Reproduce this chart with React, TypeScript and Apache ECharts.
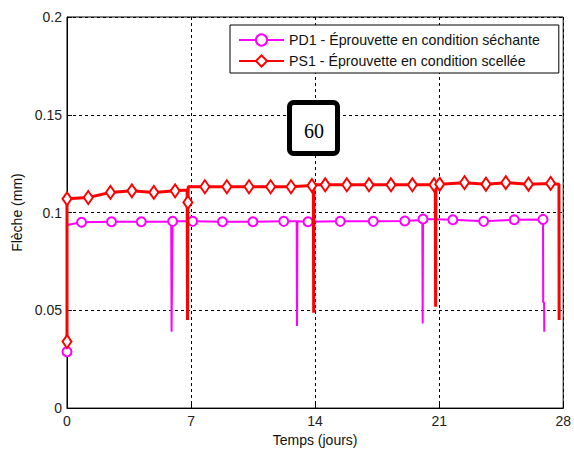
import React, { useEffect, useRef } from "react";
import * as echarts from "echarts";

const xTicks = [0, 7, 14, 21, 28];
const yTicks = [0, 0.05, 0.1, 0.15, 0.2];

const seriesNames = [
  "PD1 - Éprouvette en condition séchante",
  "PS1 - Éprouvette en condition scellée",
];

// PD1 (magenta, circles)
const pdDays = [0, 0, 0.82, 2.51, 4.19, 5.88, 5.9, 5.96, 7.09, 8.77, 10.49, 12.23, 12.96, 12.98, 13.0, 13.6, 15.42, 17.28, 19.06, 20.05, 20.07, 20.09, 21.77, 23.51, 25.24, 26.86, 26.87, 26.92, 26.93];
const pdValues = [0.0288, 0.0936, 0.095, 0.0953, 0.0953, 0.0953, 0.039, 0.0955, 0.0955, 0.0953, 0.0953, 0.0955, 0.0955, 0.042, 0.0955, 0.0953, 0.0955, 0.0955, 0.0957, 0.0962, 0.0433, 0.0967, 0.0963, 0.0955, 0.0963, 0.0965, 0.054, 0.054, 0.039];
const pdMarks = [1, 0, 1, 1, 1, 0, 0, 1, 1, 1, 1, 1, 0, 0, 0, 1, 1, 1, 1, 0, 0, 1, 1, 1, 1, 1, 0, 0, 0];

// PS1 (red, diamonds)
const psDays = [0, 0, 1.2, 2.45, 3.66, 4.9, 6.1, 6.78, 6.8, 6.82, 6.84, 7.78, 9.02, 10.27, 11.49, 12.64, 13.82, 13.9, 13.92, 13.94, 14.57, 15.79, 17.04, 18.28, 19.49, 20.71, 20.78, 20.8, 20.82, 21.03, 22.43, 23.64, 24.76, 26.04, 27.29, 27.76, 27.77];
const psValues = [0.034, 0.107, 0.1077, 0.1103, 0.1111, 0.1103, 0.1111, 0.1115, 0.045, 0.1052, 0.1132, 0.1132, 0.1132, 0.1132, 0.1132, 0.1132, 0.1138, 0.1138, 0.0487, 0.1142, 0.1142, 0.1142, 0.1142, 0.1142, 0.1142, 0.1142, 0.1142, 0.0518, 0.1145, 0.1145, 0.1153, 0.1145, 0.1153, 0.1145, 0.1149, 0.1145, 0.045];
const psMarks = [1, 1, 1, 1, 1, 1, 1, 0, 0, 1, 0, 1, 1, 1, 1, 1, 1, 0, 0, 0, 1, 1, 1, 1, 1, 1, 0, 0, 0, 1, 1, 1, 1, 1, 1, 0, 0];

const annotationText = "60";

function build(days: number[], vals: number[], marks: number[], sym: string) {
  return days.map((d, i) => ({
    value: [d, vals[i]],
    symbol: marks[i] ? sym : "none",
  }));
}

export default function App() {
  const ref = useRef<HTMLDivElement>(null);
  useEffect(() => {
    if (!ref.current) return;
    const chart = echarts.init(ref.current, undefined, { renderer: "svg" });
    const font = "'Liberation Sans', Arial, sans-serif";
    chart.setOption({
      animation: false,
      backgroundColor: "#fff",
      grid: {
        left: 67,
        right: 8,
        top: 17,
        bottom: 42,
        show: true,
        borderColor: "#000",
        borderWidth: 1,
        backgroundColor: "transparent",
      },
      legend: {
        orient: "vertical",
        left: 230,
        top: 25,
        padding: [8, 19, 5, 8],
        itemGap: 7,
        itemWidth: 45,
        itemHeight: 14,
        backgroundColor: "#fff",
        borderColor: "#000",
        borderWidth: 1,
        borderRadius: 0,
        textStyle: { fontFamily: font, fontSize: 14.2, color: "#111" },
        data: seriesNames,
      },
      xAxis: {
        type: "value",
        min: xTicks[0],
        max: xTicks[xTicks.length - 1],
        interval: 7,
        name: "Temps (jours)",
        nameLocation: "middle",
        nameGap: 22,
        nameTextStyle: { fontFamily: font, fontSize: 14, color: "#111" },
        axisLine: { lineStyle: { color: "#000", width: 1 } },
        axisTick: { inside: true, length: 5, lineStyle: { color: "#000" } },
        axisLabel: { fontFamily: font, fontSize: 14, color: "#222", margin: 6 },
        splitLine: { show: true, lineStyle: { color: "#000", type: [3, 3], width: 1 } },
      },
      yAxis: {
        type: "value",
        min: yTicks[0],
        max: yTicks[yTicks.length - 1],
        interval: 0.05,
        name: "Flèche (mm)",
        nameLocation: "middle",
        nameGap: 43,
        nameTextStyle: { fontFamily: font, fontSize: 14, color: "#111" },
        axisLine: { show: true, lineStyle: { color: "#000", width: 1 } },
        axisTick: { show: true, inside: true, length: 5, lineStyle: { color: "#000" } },
        axisLabel: { fontFamily: font, fontSize: 14, color: "#222", margin: 5 },
        splitLine: { show: true, lineStyle: { color: "#000", type: [3, 3], width: 1 } },
      },
      series: [
        {
          name: seriesNames[0],
          type: "line",
          data: build(pdDays, pdValues, pdMarks, "circle"),
          symbol: "circle",
          symbolSize: 9,
          showAllSymbol: true,
          lineStyle: { color: "#ff00ff", width: 2 },
          itemStyle: { color: "#fff", borderColor: "#ff00ff", borderWidth: 2 },
          z: 3,
        },
        {
          name: seriesNames[1],
          type: "line",
          data: build(psDays, psValues, psMarks, "diamond"),
          symbol: "diamond",
          symbolSize: [9, 13],
          showAllSymbol: true,
          lineStyle: { color: "#ff0000", width: 3 },
          itemStyle: { color: "#fff", borderColor: "#ff0000", borderWidth: 2 },
          z: 4,
        },
      ],
      graphic: [
        {
          type: "rect",
          shape: { x: 289.5, y: 102.5, width: 48, height: 51, r: 4 },
          style: { fill: "#fff", stroke: "#000", lineWidth: 5 },
          z: 100,
        },
        {
          type: "text",
          x: 314,
          y: 131,
          style: {
            text: annotationText,
            fontFamily: "'Liberation Serif', 'Times New Roman', serif",
            fontSize: 20,
            fill: "#000",
            align: "center",
            verticalAlign: "middle",
          },
          z: 101,
        },
      ],
    });
    return () => chart.dispose();
  }, []);
  return (
    <div
      ref={ref}
      style={{ position: "fixed", left: 0, top: 0, width: 574, height: 452 }}
    />
  );
}
